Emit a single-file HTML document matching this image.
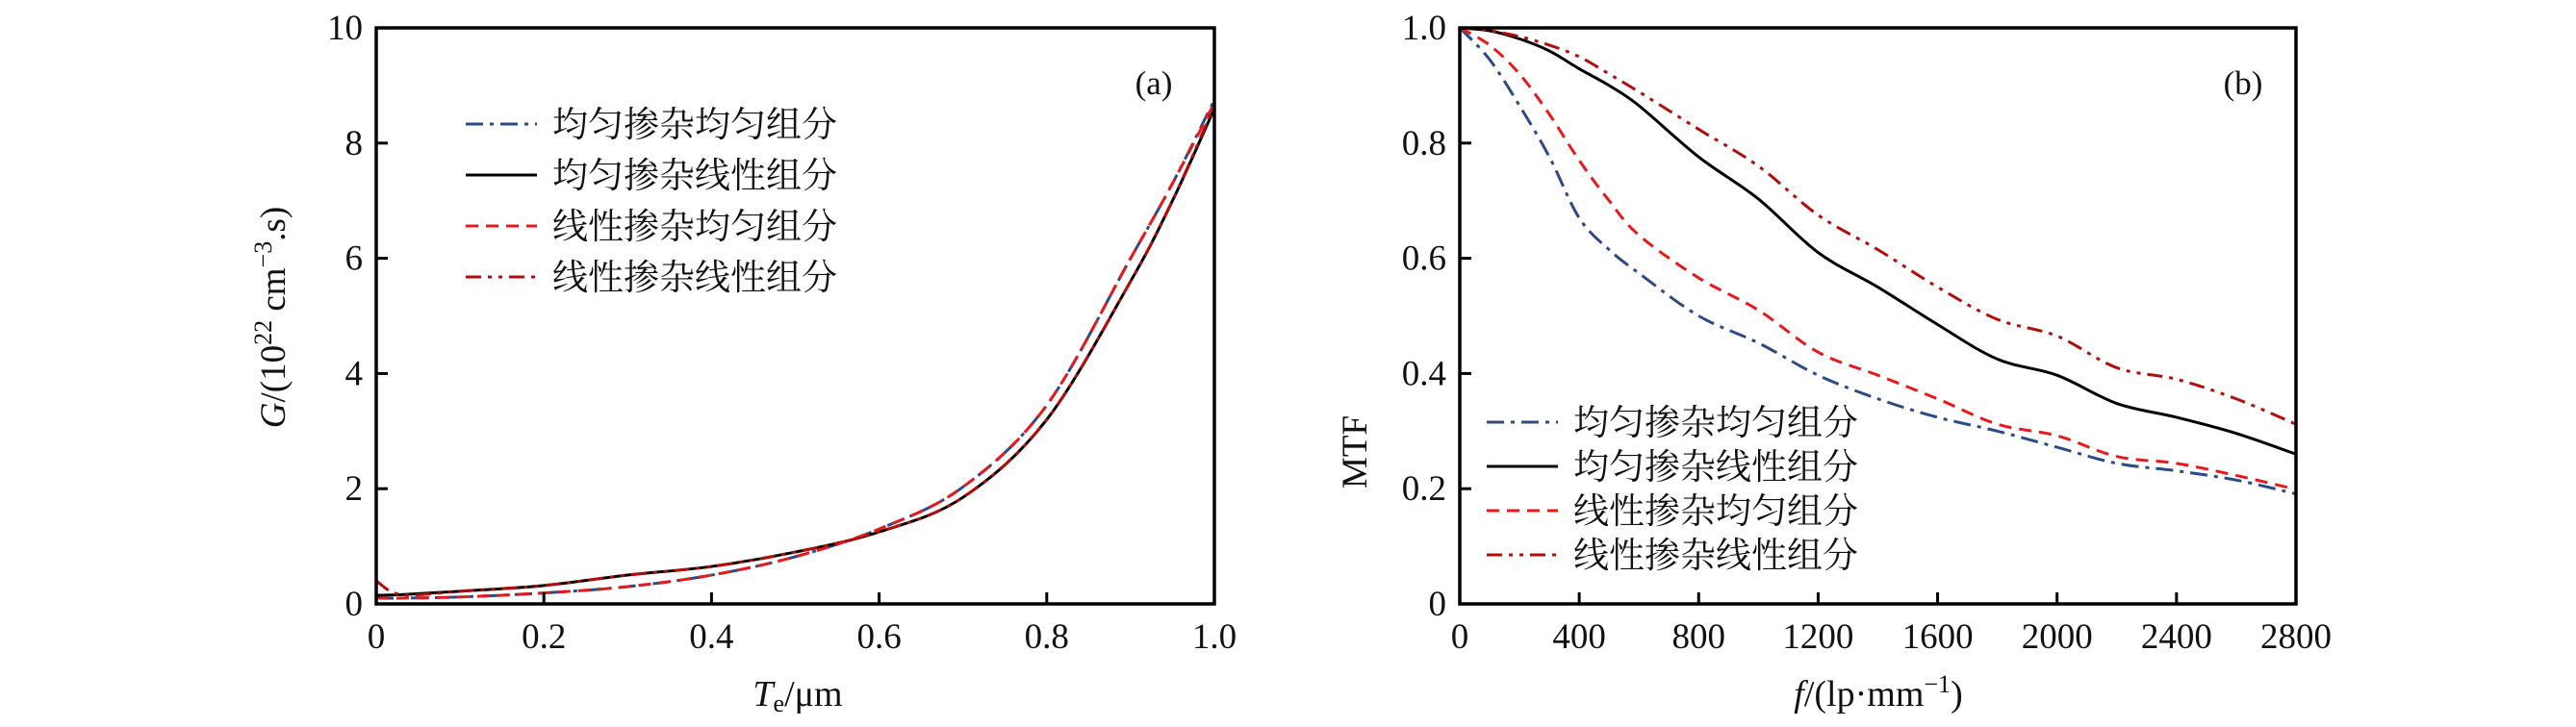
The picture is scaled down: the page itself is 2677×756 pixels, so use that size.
<!DOCTYPE html>
<html><head><meta charset="utf-8"><style>
html,body{margin:0;padding:0;background:#fff;}
svg{display:block;}
text{font-family:"Liberation Serif","Noto Serif CJK SC",serif;fill:#111;}
.cjk{font-family:"Liberation Serif","Noto Serif CJK SC","Noto Sans CJK SC",serif;}
</style></head><body>
<svg id="chart" width="2677" height="756" viewBox="0 0 2677 756" xmlns="http://www.w3.org/2000/svg"></svg>
<script>
// ---- Panel (a) data ----
const aX = [0,0.03,0.1,0.2,0.3,0.4,0.5,0.6,0.7,0.8,0.9,0.95,1.0];
const aUU = [0.1,0.1,0.12,0.19,0.3,0.5,0.82,1.3,2.03,3.45,6.0,7.3,8.75];
const aUL = [0.15,0.16,0.22,0.32,0.5,0.65,0.9,1.25,1.85,3.2,5.6,7.0,8.6];
const aLU = [0.1,0.1,0.12,0.19,0.3,0.5,0.82,1.3,2.03,3.45,6.0,7.3,8.7];
const aLL = [0.4,0.16,0.22,0.32,0.5,0.65,0.9,1.25,1.85,3.2,5.6,7.0,8.65];
const aXTicks = [0,0.2,0.4,0.6,0.8,1.0];
const aXTickLabels = ["0","0.2","0.4","0.6","0.8","1.0"];
const aYTicks = [0,2,4,6,8,10];
const aYTickLabels = ["0","2","4","6","8","10"];
// ---- Panel (b) data ----
const bX = [0,100,200,300,400,500,600,800,1000,1200,1400,1600,1800,2000,2200,2400,2600,2800];
const bUU = [1.0,0.945,0.865,0.776,0.67,0.615,0.574,0.50,0.453,0.397,0.356,0.324,0.30,0.272,0.244,0.231,0.215,0.191];
const bUL = [1.0,0.995,0.981,0.96,0.929,0.9,0.865,0.776,0.703,0.61,0.55,0.485,0.425,0.397,0.348,0.324,0.296,0.26];
const bLU = [1.0,0.97,0.92,0.85,0.77,0.70,0.64,0.566,0.51,0.437,0.397,0.356,0.312,0.292,0.256,0.244,0.223,0.199];
const bLL = [1.0,0.995,0.985,0.97,0.95,0.92,0.889,0.824,0.76,0.675,0.615,0.55,0.494,0.465,0.41,0.39,0.356,0.312];
const bXTicks = [0,400,800,1200,1600,2000,2400,2800];
const bXTickLabels = ["0","400","800","1200","1600","2000","2400","2800"];
const bYTicks = [0,0.2,0.4,0.6,0.8,1.0];
const bYTickLabels = ["0","0.2","0.4","0.6","0.8","1.0"];
const legendLabels = ["均匀掺杂均匀组分","均匀掺杂线性组分","线性掺杂均匀组分","线性掺杂线性组分"];

const NS="http://www.w3.org/2000/svg";
const svg=document.getElementById('chart');
function el(tag,attrs,parent){const e=document.createElementNS(NS,tag);for(const k in attrs)e.setAttribute(k,attrs[k]);(parent||svg).appendChild(e);return e;}
function smooth(pts){let d="M"+pts[0][0]+","+pts[0][1];for(let i=0;i<pts.length-1;i++){const p0=pts[Math.max(0,i-1)],p1=pts[i],p2=pts[i+1],p3=pts[Math.min(pts.length-1,i+2)];const c1=[p1[0]+(p2[0]-p0[0])/6,p1[1]+(p2[1]-p0[1])/6],c2=[p2[0]-(p3[0]-p1[0])/6,p2[1]-(p3[1]-p1[1])/6];d+=" C"+c1[0]+","+c1[1]+" "+c2[0]+","+c2[1]+" "+p2[0]+","+p2[1];}return d;}
const styles=[{c:"#2c4a85",d:"18,7,4,7"},{c:"#000",d:""},{c:"#e8191c",d:"13,8"},{c:"#b20d0d",d:"16,7,4,7,4,7"}];

function panel(cfg){
  const g=el('g',{});
  
  
  const L=cfg.L,R=cfg.R,T=29,B=628;
  const sx=v=>L+(v-cfg.x0)/(cfg.x1-cfg.x0)*(R-L);
  const sy=v=>B-(v-cfg.y0)/(cfg.y1-cfg.y0)*(B-T);
  const clip=el('clipPath',{id:'clip'+cfg.id},g);
  el('rect',{x:L,y:T,width:R-L,height:B-T},clip);
  cfg.series.forEach((s,i)=>{
    const p=el('path',{d:smooth(cfg.xs.map((x,j)=>[sx(x),sy(s[j])])),fill:'none',stroke:styles[i].c,'stroke-width':3,'stroke-dasharray':styles[i].d,'clip-path':'url(#clip'+cfg.id+')'},g);
    
    
  });
  const fr=el('rect',{x:L,y:T,width:R-L,height:B-T,fill:'none',stroke:'#000','stroke-width':3.5},g);
  
  
  cfg.xt.forEach((v,i)=>{
    el('line',{x1:sx(v),x2:sx(v),y1:B,y2:B-12,stroke:'#000','stroke-width':3},g);
    const t=el('text',{x:sx(v),y:674,'font-size':37,'text-anchor':'middle'},g);t.textContent=cfg.xtl[i];
    
    
  });
  cfg.yt.forEach((v,i)=>{
    el('line',{x1:L,x2:L+12,y1:sy(v),y2:sy(v),stroke:'#000','stroke-width':3},g);
    const t=el('text',{x:L-14,y:sy(v)+12,'font-size':37,'text-anchor':'end'},g);t.textContent=cfg.ytl[i];
    
    
  });
  const pl=el('text',{x:cfg.plx,y:98,'font-size':35,'text-anchor':'middle'},g);pl.textContent=cfg.pl;
  
  
  legendLabels.forEach((lab,i)=>{
    const y=cfg.legY+i*cfg.legDy;
    el('line',{x1:cfg.legX,x2:cfg.legX+74,y1:y,y2:y,stroke:styles[i].c,'stroke-width':3,'stroke-dasharray':styles[i].d},g);
    const t=el('text',{x:cfg.legX+90,y:y+13,'font-size':37,class:'cjk'},g);t.textContent=lab;
    
    
  });
  return g;
}
panel({id:'a',name:'panel-a',L:391,R:1262,x0:0,x1:1,y0:0,y1:10,xs:aX,series:[aUU,aUL,aLU,aLL],xt:aXTicks,xtl:aXTickLabels,yt:aYTicks,ytl:aYTickLabels,pl:'(a)',plx:1199,legX:484,legY:129,legDy:53});
panel({id:'b',name:'panel-b',L:1517,R:2386,x0:0,x1:2800,y0:0,y1:1,xs:bX,series:[bUU,bUL,bLU,bLL],xt:bXTicks,xtl:bXTickLabels,yt:bYTicks,ytl:bYTickLabels,pl:'(b)',plx:2331,legX:1545,legY:439,legDy:46});
</script>
<svg style="position:absolute;left:0;top:0" width="2677" height="756">
<text transform="translate(296,330) rotate(-90)" text-anchor="middle" font-size="37" style="font-family:'Liberation Serif',serif"><tspan font-style="italic">G</tspan>/(10<tspan dy="-14" font-size="26">22</tspan><tspan dy="14"> cm</tspan><tspan dy="-14" font-size="26">−3</tspan><tspan dy="14">.s)</tspan></text>
<text x="829" y="734" text-anchor="middle" font-size="38" style="font-family:'Liberation Serif',serif"><tspan font-style="italic">T</tspan><tspan font-size="26" dy="6">e</tspan><tspan dy="-6">/μm</tspan></text>
<text transform="translate(1420,470) rotate(-90)" text-anchor="middle" font-size="37" style="font-family:'Liberation Serif',serif">MTF</text>
<text x="1952" y="734" text-anchor="middle" font-size="38" style="font-family:'Liberation Serif',serif"><tspan font-style="italic">f</tspan>/(lp·mm<tspan dy="-14" font-size="26">−1</tspan><tspan dy="14">)</tspan></text>
</svg>
</body></html>
